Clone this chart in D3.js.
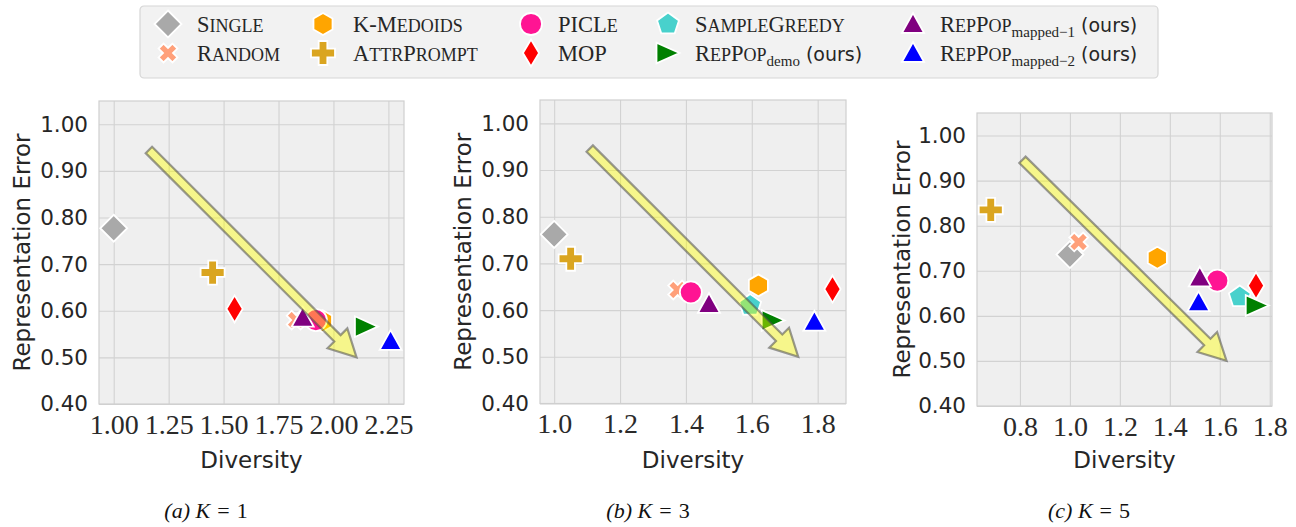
<!DOCTYPE html>
<html>
<head>
<meta charset="utf-8">
<script src="https://cdn.jsdelivr.net/npm/d3@7"></script>
<style>
  body { margin: 0; background: #fff; }
  svg { display: block; }
</style>
</head>
<body>
<div id="chart"></div>
<script>
// methods, in legend / drawing order
const methods = ["Single", "Random", "K-Medoids", "AttrPrompt", "PICLe", "MOP",
                 "SampleGreedy", "RepPop", "RepPop", "RepPop"];
const subs    = [null, null, null, null, null, null, null, "demo", "mapped\u22121", "mapped\u22122"];
const ours    = [false, false, false, false, false, false, false, true, true, true];
const colors  = ["darkgray", "lightsalmon", "orange", "goldenrod", "deeppink", "red",
                 "mediumturquoise", "green", "purple", "blue"];
const shapes  = ["D", "X", "h", "P", "o", "d", "p", ">", "^", "^"];
const sizes   = [13.5, 10, 11, 12, 11, 13.5, 11.5, 11.5, 11, 11];

// diversity (x) and representation error (y), one pair per K
const divK1 = [1.00, 1.83, 1.95, 1.45, 1.92, 1.55, null, 2.15, 1.86, 2.26];
const errK1 = [0.777, 0.580, 0.578, 0.682, 0.580, 0.604, null, 0.566, 0.585, 0.535];
const divK3 = [1.00, 1.375, 1.62, 1.05, 1.415, 1.845, 1.595, 1.665, 1.47, 1.79];
const errK3 = [0.762, 0.643, 0.653, 0.710, 0.638, 0.645, 0.610, 0.578, 0.613, 0.575];
const divK5 = [1.00, 1.035, 1.35, 0.683, 1.59, 1.745, 1.68, 1.75, 1.52, 1.515];
const errK5 = [0.736, 0.764, 0.729, 0.835, 0.678, 0.667, 0.642, 0.623, 0.685, 0.630];

// tick labels
const yTicks   = [0.40, 0.50, 0.60, 0.70, 0.80, 0.90, 1.00];
const xTicksK1 = [1.00, 1.25, 1.50, 1.75, 2.00, 2.25];
const xTicksK3 = [1.0, 1.2, 1.4, 1.6, 1.8];
const xTicksK5 = [0.8, 1.0, 1.2, 1.4, 1.6, 1.8];

// trend arrows (data coords): [x0, y0, x1, y1]
const arrowK1 = [1.16, 0.945, 2.105, 0.50];
const arrowK3 = [1.108, 0.946, 1.741, 0.50];
const arrowK5 = [0.81, 0.946, 1.627, 0.50];

const captions = ["(a)", "(b)", "(c)"];
const kValues  = [1, 3, 5];

const width = 1296, height = 527;
const svg = d3.select("#chart").append("svg")
  .attr("width", width).attr("height", height)
  .attr("viewBox", [0, 0, width, height]);

function shapePath(s, r) {
  const poly = (n, rot) => d3.range(n).map(k => {
    const a = (rot + k * 360 / n) * Math.PI / 180;
    return [r * Math.cos(a), r * Math.sin(a)];
  });
  const toPath = pts => "M" + pts.map(p => p[0].toFixed(2) + "," + p[1].toFixed(2)).join("L") + "Z";
  const t = r * 0.36;
  const plus = [[-t,-r],[t,-r],[t,-t],[r,-t],[r,t],[t,t],[t,r],[-t,r],[-t,t],[-r,t],[-r,-t],[-t,-t]];
  switch (s) {
    case "D": return toPath([[0,-r],[r,0],[0,r],[-r,0]]);
    case "d": return toPath([[0,-r],[r*0.6,0],[0,r],[-r*0.6,0]]);
    case "o": return `M${r},0A${r},${r} 0 1,1 ${-r},0A${r},${r} 0 1,1 ${r},0Z`;
    case "^": return toPath([[0,-r],[r,r*0.8],[-r,r*0.8]]);
    case ">": return toPath([[r,0],[-r,r*0.9],[-r,-r*0.9]]);
    case "h": return toPath(poly(6, -90));
    case "p": return toPath(poly(5, -90));
    case "P": return toPath(plus);
    case "X": {
      const c = Math.SQRT1_2 * 0.98;
      return toPath(plus.map(p => [(p[0]-p[1])*c, (p[0]+p[1])*c]));
    }
  }
}

// fake small caps: lowercase letters become smaller capitals
function smallCaps(el, str, size) {
  const runs = [];
  for (const ch of str) {
    const low = ch !== ch.toUpperCase();
    if (runs.length && runs[runs.length - 1].low === low) runs[runs.length - 1].s += ch;
    else runs.push({low, s: ch});
  }
  runs.forEach(r => el.append("tspan").attr("font-size", r.low ? size * 0.8 : size)
    .text(r.low ? r.s.toUpperCase() : r.s));
}

// panels
const panels = [
  {div: divK1, err: errK1, xt: xTicksK1, fmt: ".2f", xd: [0.933, 2.321], box: [99, 404, 101, 404], arrow: arrowK1, cap: 206},
  {div: divK3, err: errK3, xt: xTicksK3, fmt: ".1f", xd: [0.957, 1.886], box: [540, 846, 100, 403.5], arrow: arrowK3, cap: 648},
  {div: divK5, err: errK5, xt: xTicksK5, fmt: ".1f", xd: [0.628, 1.809], box: [977, 1272, 113, 406], arrow: arrowK5, cap: 1089}
];

panels.forEach((p, pi) => {
  const [l, r, t, b] = p.box;
  const x = d3.scaleLinear().domain(p.xd).range([l, r]);
  const y = d3.scaleLinear().domain([0.40, 1.05]).range([b, t]);
  const g = svg.append("g");

  g.append("rect").attr("x", l).attr("y", t).attr("width", r - l).attr("height", b - t)
    .attr("fill", "#efefef");

  // grid
  g.append("g").attr("transform", `translate(0,${b})`)
    .call(d3.axisBottom(x).tickValues(p.xt).tickSize(-(b - t)).tickFormat(""))
    .call(a => a.select(".domain").remove())
    .call(a => a.selectAll("line").attr("stroke", "#d2d2d2").attr("stroke-width", 1.1));
  g.append("g").attr("transform", `translate(${l},0)`)
    .call(d3.axisLeft(y).tickValues(yTicks).tickSize(-(r - l)).tickFormat(""))
    .call(a => a.select(".domain").remove())
    .call(a => a.selectAll("line").attr("stroke", "#d2d2d2").attr("stroke-width", 1.1));

  g.append("rect").attr("x", l).attr("y", t).attr("width", r - l).attr("height", b - t)
    .attr("fill", "none").attr("stroke", "#cfcfcf").attr("stroke-width", 1.2);

  // tick labels
  g.append("g").attr("transform", `translate(0,${b})`)
    .call(d3.axisBottom(x).tickValues(p.xt).tickSize(0).tickPadding(10).tickFormat(d3.format(p.fmt)))
    .call(a => a.select(".domain").remove())
    .call(a => a.selectAll("text")
      .style("font-family", "'Liberation Serif', serif").style("font-size", "28px")
      .attr("fill", "#2a2a2a").attr("dy", "0.71em"));
  g.append("g").attr("transform", `translate(${l},0)`)
    .call(d3.axisLeft(y).tickValues(yTicks).tickSize(0).tickPadding(11).tickFormat(d3.format(".2f")))
    .call(a => a.select(".domain").remove())
    .call(a => a.selectAll("text")
      .style("font-family", "'DejaVu Sans', sans-serif").style("font-size", "21.5px")
      .attr("fill", "#262626"));

  // axis labels
  g.append("text").attr("x", (l + r) / 2).attr("y", 468)
    .attr("text-anchor", "middle").style("font-family", "'DejaVu Sans', sans-serif")
    .style("font-size", "23px").attr("fill", "#262626").text("Diversity");
  g.append("text")
    .attr("transform", `translate(${l - 77 + (pi === 2 ? 2 : 0)},${(t + b) / 2}) rotate(-90)`)
    .attr("text-anchor", "middle").attr("dy", "0.35em").style("font-family", "'DejaVu Sans', sans-serif")
    .style("font-size", "23px").attr("fill", "#262626").text("Representation Error");

  // points
  const clip = "clip" + pi;
  svg.append("clipPath").attr("id", clip).append("rect")
    .attr("x", l).attr("y", t).attr("width", r - l).attr("height", b - t);
  const pts = methods.map((m, i) => ({i, dx: p.div[i], ey: p.err[i]})).filter(d => d.dx != null);
  g.append("g").attr("clip-path", `url(#${clip})`)
    .selectAll("path").data(pts).join("path")
    .attr("transform", d => `translate(${x(d.dx)},${y(d.ey)})`)
    .attr("d", d => shapePath(shapes[d.i], sizes[d.i]))
    .attr("fill", d => colors[d.i])
    .attr("stroke", "white").attr("stroke-width", 1.8).attr("stroke-linejoin", "miter");

  // arrow
  const [ax0, ay0, ax1, ay1] = p.arrow;
  const x0 = x(ax0), y0 = y(ay0), x1 = x(ax1), y1 = y(ay1);
  const len = Math.hypot(x1 - x0, y1 - y0);
  const ux = (x1 - x0) / len, uy = (y1 - y0) / len, nx = -uy, ny = ux;
  const sw = 4.5, hw = 14, hl = 27;
  const bx = x1 - ux * hl, by = y1 - uy * hl;
  const ap = [
    [x0 + nx * sw, y0 + ny * sw], [bx + nx * sw, by + ny * sw], [bx + nx * hw, by + ny * hw],
    [x1, y1], [bx - nx * hw, by - ny * hw], [bx - nx * sw, by - ny * sw], [x0 - nx * sw, y0 - ny * sw]
  ];
  g.append("path").attr("d", "M" + ap.map(q => q.join(",")).join("L") + "Z")
    .attr("fill", "yellow").attr("fill-opacity", 0.42)
    .attr("stroke", "#4a4a4a").attr("stroke-opacity", 0.55).attr("stroke-width", 2.2)
    .attr("stroke-linejoin", "miter");

  // caption
  const cap = svg.append("text").attr("x", p.cap).attr("y", 518).attr("text-anchor", "middle")
    .style("font-family", "'Liberation Serif', serif").style("font-size", "22px").attr("fill", "#111");
  cap.append("tspan").attr("font-style", "italic").text(captions[pi] + " ");
  cap.append("tspan").attr("font-style", "italic").text("K");
  cap.append("tspan").attr("dx", 7).text("=");
  cap.append("tspan").attr("dx", 7).text(kValues[pi]);
});

// legend
const legX = [168, 323, 531, 668, 913];
const legTextX = [197, 353, 558, 695, 940];
const legY = [24, 53];
svg.append("rect").attr("x", 140).attr("y", 6).attr("width", 1018).attr("height", 72)
  .attr("rx", 4).attr("fill", "#f2f2f2").attr("stroke", "#d6d6d6").attr("stroke-width", 1.2);

methods.forEach((m, i) => {
  const col = Math.floor(i / 2), row = i % 2;
  const cx = legX[col], cy = legY[row];
  svg.append("path").attr("transform", `translate(${cx},${cy})`)
    .attr("d", shapePath(shapes[i], sizes[i]))
    .attr("fill", colors[i]).attr("stroke", "white").attr("stroke-width", 1.8);
  const tx = svg.append("text").attr("x", legTextX[col]).attr("y", cy + 7.5)
    .style("font-family", "'Liberation Serif', serif").attr("fill", "#262626");
  smallCaps(tx, m, 22.5);
  if (subs[i]) {
    tx.append("tspan").attr("font-size", 15).attr("dy", 5).text(subs[i]);
  }
  if (ours[i]) {
    tx.append("tspan").attr("dy", subs[i] ? -5 : 0).style("font-family", "'DejaVu Sans', sans-serif")
      .attr("font-size", 19).text(" (ours)");
  }
});
</script>
</body>
</html>
